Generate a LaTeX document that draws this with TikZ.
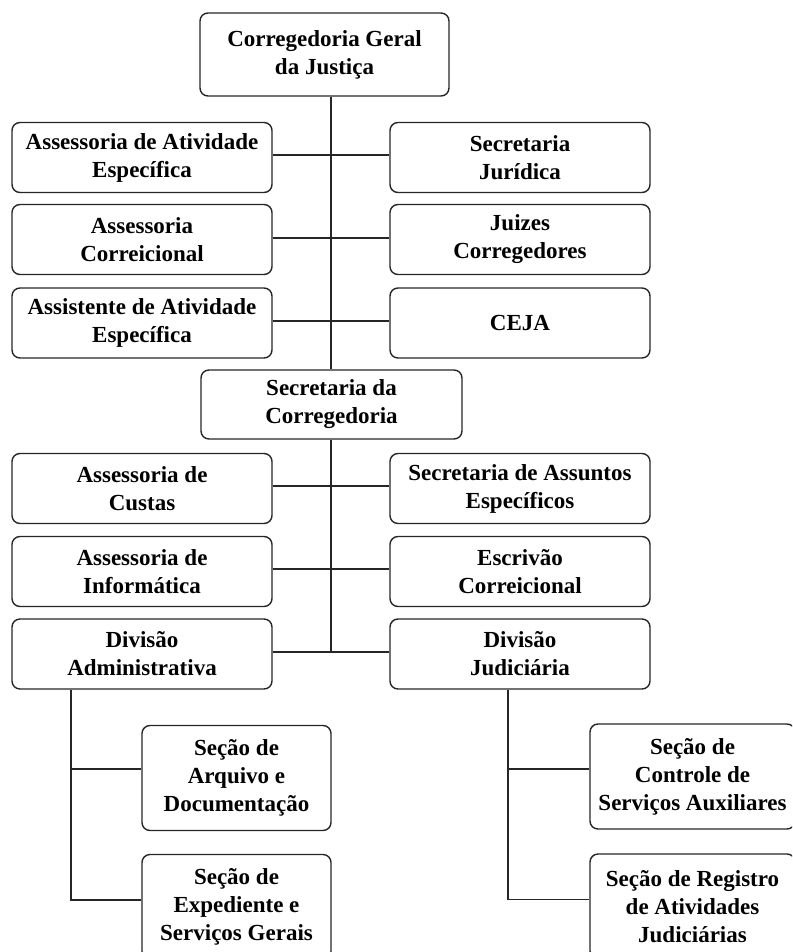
\documentclass[tikz,border=0pt]{standalone}
\usepackage{fontspec}
\setmainfont{Liberation Serif}
\begin{document}
\begin{tikzpicture}[x=1pt,y=-1pt,
  unit/.style={draw=black!85, rounded corners=8pt, line width=1.4pt, align=center,
    font=\fontsize{23}{28}\selectfont\bfseries, inner sep=0pt},
  side/.style={unit, minimum width=260pt, minimum height=70pt},
  sec/.style={unit, minimum width=189pt, minimum height=105pt},
  link/.style={draw=black!85, line width=1.4pt}]
\useasboundingbox (0,0) rectangle (792,952);
\clip (0,0) rectangle (792,952);

% top level
\node[unit, minimum width=249pt, minimum height=83pt] (cgj) at (324.5,54.5) {Corregedoria Geral\\da Justiça};

% advisory units around the first trunk
\node[side] (l1) at (142,157.5) {Assessoria de Atividade\\Específica};
\node[side] (r1) at (520,157.5) {Secretaria\\Jurídica};
\node[side] (l2) at (142,239.5) {Assessoria\\Correicional};
\node[side] (r2) at (520,239.5) {Juizes\\Corregedores};
\node[side] (l3) at (142,323) {Assistente de Atividade\\Específica};
\node[side] (r3) at (520,323) {CEJA};

% secretariat
\node[unit, minimum width=261pt, minimum height=69pt] (sc) at (331.5,404.5) {Secretaria da\\Corregedoria};

\node[side] (l4) at (142,488.5) {Assessoria de\\Custas};
\node[side] (r4) at (520,488.5) {Secretaria de Assuntos\\Específicos};
\node[side] (l5) at (142,571.5) {Assessoria de\\Informática};
\node[side] (r5) at (520,571.5) {Escrivão\\Correicional};
\node[side] (l6) at (142,654) {Divisão\\Administrativa};
\node[side] (r6) at (520,654) {Divisão\\Judiciária};

% sections
\node[sec] (a1) at (236.5,778) {Seção de\\Arquivo e\\Documentação};
\node[sec] (a2) at (236.5,907) {Seção de\\Expediente e\\Serviços Gerais};
\node[unit, minimum width=205pt, minimum height=105pt] (j1) at (692.5,776.5) {Seção de\\Controle de\\Serviços Auxiliares};
\node[unit, minimum width=205pt, minimum height=105pt] (j2) at (692.5,906.5) {Seção de Registro\\de Atividades\\Judiciárias};

% trunk lines
\coordinate (tx) at (331,0);
\draw[link] (cgj.south -| tx) -- (sc.north -| tx);
\draw[link] (sc.south -| tx) -- ([yshift=2pt]l6.east -| tx);

\foreach \a/\b/\s in {l1/r1/2.5,l2/r2/1.5,l3/r3/2,l4/r4/2.5,l5/r5/2.5,l6/r6/2}
  \draw[link] ([yshift=\s pt]\a.east) -- ([yshift=\s pt]\b.west);

% division branches
\coordinate (sl) at (71,0);
\coordinate (sr) at (508,0);
\draw[link] (l6.south -| sl) |- ([yshift=7pt]a2.west);
\draw[link] (sl |- a1.west) ++(0,-9) -- ([yshift=9pt]a1.west);
\draw[link] (r6.south -| sr) |- ([yshift=7pt]j2.west);
\draw[link] (sr |- j1.west) ++(0,-7.5) -- ([yshift=7.5pt]j1.west);
\end{tikzpicture}
\end{document}
